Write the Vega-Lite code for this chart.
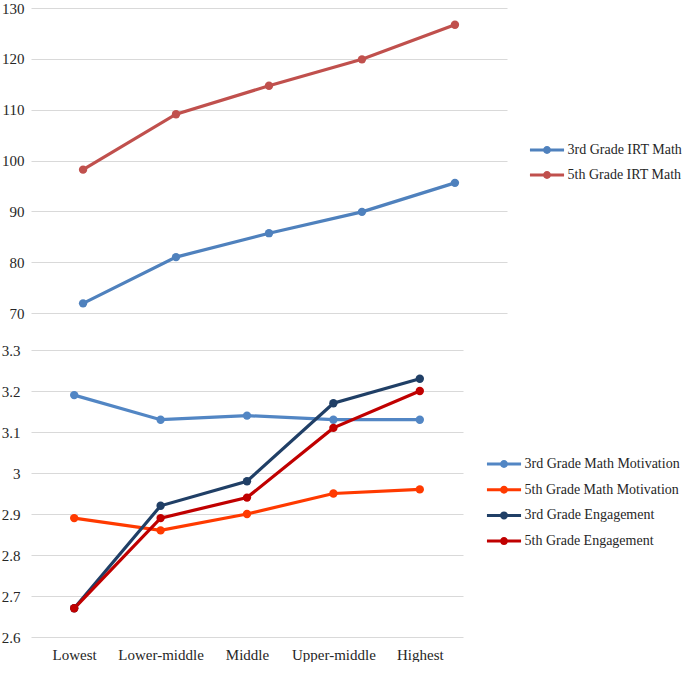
{
  "$schema": "https://vega.github.io/schema/vega-lite/v6.json",
  "padding": {"left": 1, "top": 1, "right": 0, "bottom": 0},
  "spacing": 22,
  "config": {
    "font": "Liberation Serif",
    "view": {"stroke": null},
    "axis": {"labelFont": "Liberation Serif", "labelFontSize": 15, "labelColor": "#262626", "domain": false, "ticks": false, "gridColor": "#D9D9D9", "gridWidth": 1, "title": null},
    "legend": {"labelFont": "Liberation Serif", "labelFontSize": 14, "labelColor": "#262626", "title": null, "labelLimit": 300}
  },
  "resolve": {"scale": {"color": "independent"}},
  "vconcat": [
    {
      "width": 476,
      "height": 305,
      "data": {"values": [
        {"series": "3rd Grade IRT Math", "q": "Lowest", "v": 71.9},
        {"series": "3rd Grade IRT Math", "q": "Lower-middle", "v": 81.0},
        {"series": "3rd Grade IRT Math", "q": "Middle", "v": 85.7},
        {"series": "3rd Grade IRT Math", "q": "Upper-middle", "v": 89.9},
        {"series": "3rd Grade IRT Math", "q": "Highest", "v": 95.6},
        {"series": "5th Grade IRT Math", "q": "Lowest", "v": 98.2},
        {"series": "5th Grade IRT Math", "q": "Lower-middle", "v": 109.1},
        {"series": "5th Grade IRT Math", "q": "Middle", "v": 114.7},
        {"series": "5th Grade IRT Math", "q": "Upper-middle", "v": 119.9},
        {"series": "5th Grade IRT Math", "q": "Highest", "v": 126.7}
      ]},
      "mark": {"type": "line", "strokeWidth": 3.2, "point": {"filled": true, "size": 70}},
      "encoding": {
        "x": {"field": "q", "type": "nominal", "sort": ["Lowest", "Lower-middle", "Middle", "Upper-middle", "Highest"], "scale": {"padding": 0.56}, "axis": null},
        "y": {"field": "v", "type": "quantitative", "scale": {"domain": [70, 130], "nice": false, "zero": false}, "axis": {"values": [70, 80, 90, 100, 110, 120, 130], "labelPadding": 7}},
        "color": {"field": "series", "type": "nominal", "scale": {"domain": ["3rd Grade IRT Math", "5th Grade IRT Math"], "range": ["#4F81BD", "#C0504D"]},
          "legend": {"orient": "none", "legendX": 509, "legendY": 135, "symbolType": "M-3.1,0L3.1,0M0.45,0A0.45,0.45,0,1,1,-0.45,0A0.45,0.45,0,1,1,0.45,0", "symbolSize": 121, "symbolStrokeWidth": 3, "rowPadding": 7, "labelOffset": 13.5}}
      }
    },
    {
      "width": 432,
      "height": 287,
      "data": {"values": [
        {"series": "3rd Grade Math Motivation", "q": "Lowest", "v": 3.19},
        {"series": "3rd Grade Math Motivation", "q": "Lower-middle", "v": 3.13},
        {"series": "3rd Grade Math Motivation", "q": "Middle", "v": 3.14},
        {"series": "3rd Grade Math Motivation", "q": "Upper-middle", "v": 3.13},
        {"series": "3rd Grade Math Motivation", "q": "Highest", "v": 3.13},
        {"series": "5th Grade Math Motivation", "q": "Lowest", "v": 2.89},
        {"series": "5th Grade Math Motivation", "q": "Lower-middle", "v": 2.86},
        {"series": "5th Grade Math Motivation", "q": "Middle", "v": 2.90},
        {"series": "5th Grade Math Motivation", "q": "Upper-middle", "v": 2.95},
        {"series": "5th Grade Math Motivation", "q": "Highest", "v": 2.96},
        {"series": "3rd Grade Engagement", "q": "Lowest", "v": 2.67},
        {"series": "3rd Grade Engagement", "q": "Lower-middle", "v": 2.92},
        {"series": "3rd Grade Engagement", "q": "Middle", "v": 2.98},
        {"series": "3rd Grade Engagement", "q": "Upper-middle", "v": 3.17},
        {"series": "3rd Grade Engagement", "q": "Highest", "v": 3.23},
        {"series": "5th Grade Engagement", "q": "Lowest", "v": 2.67},
        {"series": "5th Grade Engagement", "q": "Lower-middle", "v": 2.89},
        {"series": "5th Grade Engagement", "q": "Middle", "v": 2.94},
        {"series": "5th Grade Engagement", "q": "Upper-middle", "v": 3.11},
        {"series": "5th Grade Engagement", "q": "Highest", "v": 3.20}
      ]},
      "mark": {"type": "line", "strokeWidth": 3.2, "point": {"filled": true, "size": 70}},
      "encoding": {
        "x": {"field": "q", "type": "nominal", "sort": ["Lowest", "Lower-middle", "Middle", "Upper-middle", "Highest"], "axis": {"labelAngle": 0, "labelPadding": 10, "grid": false}},
        "y": {"field": "v", "type": "quantitative", "scale": {"domain": [2.6, 3.3], "nice": false, "zero": false}, "axis": {"values": [2.6, 2.7, 2.8, 2.9, 3, 3.1, 3.2, 3.3], "labelPadding": 11, "format": "~g"}},
        "color": {"field": "series", "type": "nominal", "scale": {"domain": ["3rd Grade Math Motivation", "5th Grade Math Motivation", "3rd Grade Engagement", "5th Grade Engagement"], "range": ["#5286C4", "#FF3A00", "#203F66", "#C00000"]},
          "legend": {"orient": "none", "legendX": 466, "legendY": 107, "symbolType": "M-3.1,0L3.1,0M0.45,0A0.45,0.45,0,1,1,-0.45,0A0.45,0.45,0,1,1,0.45,0", "symbolSize": 121, "symbolStrokeWidth": 3, "rowPadding": 7.7, "labelOffset": 13.5}}
      }
    }
  ]
}
